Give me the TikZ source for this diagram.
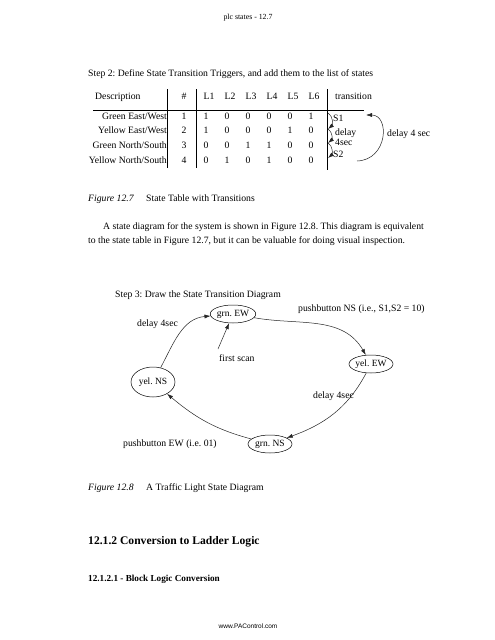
\documentclass[tikz,border=0pt]{standalone}
\usepackage{fontspec}
\setmainfont{Liberation Serif}
\newfontfamily\webfont{Liberation Sans}
\usetikzlibrary{shapes.geometric,arrows.meta}
\frenchspacing

\begin{document}
\begin{tikzpicture}[x=1pt, y=-1pt, >={Latex[length=6pt,width=4pt]},
    txt/.style={anchor=base west, inner sep=0pt, font=\fontsize{9.7}{11}\selectfont},
    cell/.style={anchor=base, inner sep=0pt, font=\fontsize{9.7}{11}\selectfont},
    state/.style={ellipse, draw, line width=0.5pt, minimum width=44pt, minimum height=18pt, inner sep=0pt, font=\fontsize{9.5}{11}\selectfont},
    link/.style={->, line width=0.5pt, black!85}]
  \useasboundingbox[fill=white] (0,0) rectangle (495,640);

  % page head
  \node[cell, font=\fontsize{7.8}{9}\selectfont] (head) at (248,19) {plc states - 12.7};
  \node[txt] (step2) at (88,76) {Step 2: Define State Transition Triggers, and add them to the list of states};

  % table header
  \node[txt] (hdesc) at (95,99) {Description};
  \node[cell] (hnum) at (184,99) {\#};
  \foreach \j in {1,...,6} \node[cell] (h\j) at ({188+21*\j},99) {L\j};
  \node[txt] (htrans) at (335,99) {transition};

  % table lines
  \draw[line width=0.6pt] (93,110) -- (364,110);
  \draw[line width=0.6pt] (167,89) -- (167,168);
  \draw[line width=0.6pt] (196,89) -- (196,168);
  \draw[line width=0.6pt] (327,89) -- (327,170);

  % rows of states
  \node[cell, anchor=base east] (d1) at (167,119) {Green East/West};
  \node[cell, anchor=base east] (d2) at (167,133) {Yellow East/West};
  \node[cell, anchor=base east] (d3) at (167,148) {Green North/South};
  \node[cell, anchor=base east] (d4) at (167,163) {Yellow North/South};
  \foreach \r/\vals [count=\i] in {119/{1,0,0,0,0,1}, 133/{1,0,0,0,1,0}, 148/{0,0,1,1,0,0}, 163/{0,1,0,1,0,0}} {
    \node[cell] (n\i) at (184,\r) {\i};
    \foreach \v [count=\j] in \vals \node[cell] (v\i\j) at ({185+21*\j},\r) {\v};
  }

  % transitions
  \coordinate (t1) at (328,113);
  \coordinate (t2) at (328,129);
  \coordinate (t3) at (328,143);
  \coordinate (t4) at (328,158);
  \draw[link] (t1) to[out=-30,in=40] (t2);
  \draw[link] (t2) to[out=-30,in=40] (t3);
  \draw[link] (t3) to[out=-30,in=40] (t4);
  \node[txt] (s1) at (333,121) {S1};
  \node[txt] (dly1) at (335,135) {delay};
  \node[txt] (dly2) at (335,145) {4sec};
  \node[txt] (s2) at (333,157) {S2};
  \coordinate (back0) at (357,161);
  \coordinate (back1) at (366,115);
  \draw[link] (back0) .. controls (388,160) and (390,115) .. (back1);
  \node[txt] (dly4) at (387,136) {delay 4 sec};

  % caption and text
  \node[txt] (fig7) at (88,201) {\itshape Figure 12.7};
  \node[txt] (cap7) at (146,201) {State Table with Transitions};
  \node[txt] (par1) at (103,229) {A state diagram for the system is shown in Figure 12.8. This diagram is equivalent};
  \node[txt] (par2) at (88,243) {to the state table in Figure 12.7, but it can be valuable for doing visual inspection.};

  % state diagram
  \node[txt] (step3) at (115,297) {Step 3: Draw the State Transition Diagram};
  \node[state] (gEW) at (233,314) {grn. EW};
  \node[state] (yEW) at (371,364) {yel. EW};
  \node[state, minimum height=30pt] (yNS) at (153,382) {yel. NS};
  \node[state] (gNS) at (270,444) {grn. NS};

  \draw[link] (yNS) to[out=62,in=185] (gEW);
  \draw[link] (gEW) to[out=-10,in=120] (yEW);
  \draw[link] (yEW) to[out=-118,in=20] (gNS);
  \draw[link] (gNS) to[out=165,in=-40] (yNS);
  \node[txt] (first) at (219,361) {first scan};
  \coordinate (fs) at (218,349);
  \draw[link] (fs) -- (gEW);

  \node[txt] (lab1) at (137,326) {delay 4sec};
  \node[txt] (lab2) at (298,311) {pushbutton NS (i.e., S1,S2 = 10)};
  \node[txt] (lab3) at (313,398) {delay 4sec};
  \node[txt] (lab4) at (123,446) {pushbutton EW (i.e. 01)};

  \node[txt] (fig8) at (88,490) {\itshape Figure 12.8};
  \node[txt] (cap8) at (146,490) {A Traffic Light State Diagram};

  % next section
  \node[txt, font=\fontsize{11.6}{14}\selectfont\bfseries] (sec) at (88,544) {12.1.2 Conversion to Ladder Logic};
  \node[txt, font=\fontsize{9.2}{11}\selectfont\bfseries] (subsec) at (88,581) {12.1.2.1 - Block Logic Conversion};
  \node[cell, font=\fontsize{6.5}{8}\webfont] (web) at (248,628) {www.PAControl.com};
\end{tikzpicture}
\end{document}
